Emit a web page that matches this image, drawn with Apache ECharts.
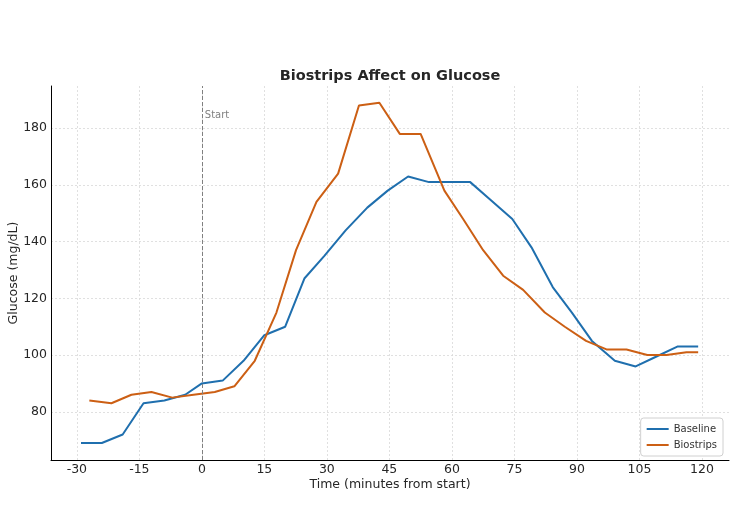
<!DOCTYPE html>
<html>
<head>
<meta charset="utf-8">
<script src="https://cdn.jsdelivr.net/npm/echarts@6/dist/echarts.min.js"></script>
<style>
html,body{margin:0;padding:0;background:#fff;}
#chart{width:745px;height:520px;}
</style>
</head>
<body>
<div id="chart"></div>
<script>
// Baseline series (time in minutes, glucose mg/dL)
const baselineTime = [-29, -24, -19, -14, -9, -4, 0, 5, 10, 15, 20, 24.6, 29.4, 34.5, 39.7, 44.6, 49.5, 54.5, 59.4, 64.4, 69.1, 74.5, 79.1, 84.2, 88.8, 93.6, 99.1, 104.1, 109.1, 114.1, 119.1];
const baselineValues = [69, 69, 72, 83, 84, 86, 90, 91, 98, 107, 110, 127, 135, 144, 152, 158, 163, 161, 161, 161, 155, 148, 138, 124, 115, 105, 98, 96, 99.5, 103, 103];
// Biostrips series
const biostripsTime = [-27, -21.7, -16.9, -12.1, -7.1, -2, 3.1, 7.8, 12.7, 17.9, 22.6, 27.5, 32.7, 37.7, 42.6, 47.5, 52.5, 58.2, 62.7, 67.5, 72.3, 77.1, 82.3, 87.1, 92.2, 97.1, 101.9, 106.9, 111.5, 116.3, 119.1];
const biostripsValues = [84, 83, 86, 87, 85, 86, 87, 89, 98, 115, 137, 154, 164, 188, 189, 178, 178, 158, 148, 137, 128, 123, 115, 110, 105, 102, 102, 100, 100, 101, 101];
// Axis ticks
const xTicks = [-30, -15, 0, 15, 30, 45, 60, 75, 90, 105, 120];
const yTicks = [80, 100, 120, 140, 160, 180];
const seriesNames = ['Baseline', 'Biostrips'];
const startMarker = 0;

const zip = (xs, ys) => xs.map((x, i) => [x, ys[i]]);
const font = 'DejaVu Sans, sans-serif';
const chart = echarts.init(document.getElementById('chart'), null, {renderer: 'canvas'});
const gridLine = {show: true, lineStyle: {color: '#d9d9d9', type: [2, 2], width: 0.8}};

chart.setOption({
  animation: false,
  backgroundColor: '#fff',
  title: {
    text: 'Biostrips Affect on Glucose',
    left: 385, top: 64, textAlign: 'center',
    textStyle: {fontFamily: font, fontSize: 14.5, fontWeight: 'bold', color: '#262626'}
  },
  legend: {
    orient: 'vertical', right: 22, bottom: 64,
    data: seriesNames,
    itemWidth: 22, itemHeight: 2, itemGap: 6,
    padding: [6, 6, 6, 6],
    backgroundColor: '#fff', borderColor: '#d0d0d0', borderWidth: 1, borderRadius: 3,
    textStyle: {fontFamily: font, fontSize: 10, color: '#333'},
    icon: 'rect'
  },
  grid: {left: 51, right: 16, top: 86, bottom: 60, containLabel: false, outerBoundsMode: 'none'},
  xAxis: {
    type: 'value', min: -36.2, max: 126.5,
    name: 'Time (minutes from start)', nameLocation: 'middle', nameGap: 18, nameMoveOverlap: false,
    nameTextStyle: {fontFamily: font, fontSize: 12.5, color: '#262626'},
    axisLine: {show: true, onZero: false, lineStyle: {color: '#000', width: 1}},
    axisTick: {show: false, customValues: xTicks},
    axisLabel: {customValues: xTicks, fontFamily: font, fontSize: 12.5, color: '#262626', margin: 3},
    splitLine: gridLine
  },
  yAxis: {
    type: 'value', min: 63, max: 194.9,
    name: 'Glucose (mg/dL)', nameLocation: 'middle', nameGap: 31, nameMoveOverlap: false,
    nameTextStyle: {fontFamily: font, fontSize: 12.5, color: '#262626'},
    axisLine: {show: true, onZero: false, lineStyle: {color: '#000', width: 1}},
    axisTick: {show: false, customValues: yTicks},
    axisLabel: {customValues: yTicks, fontFamily: font, fontSize: 12.5, color: '#262626', margin: 4},
    splitLine: gridLine
  },
  series: [
    {
      name: seriesNames[0], type: 'line', data: zip(baselineTime, baselineValues),
      showSymbol: false, symbol: 'none',
      lineStyle: {color: '#1f6fae', width: 2}, itemStyle: {color: '#1f6fae'},
      z: 3,
      markLine: {
        silent: true, symbol: ['none', 'none'],
        lineStyle: {color: '#808080', type: [4, 2], width: 1, opacity: 1},
        emphasis: {disabled: true},
        label: {show: false},
        data: [{xAxis: startMarker}]
      },
      markPoint: {
        symbol: 'circle', symbolSize: 0,
        label: {show: true, position: 'right', distance: 3, formatter: 'Start',
                fontFamily: font, fontSize: 10, color: '#808080'},
        data: [{coord: [startMarker, 184.5]}]
      }
    },
    {
      name: seriesNames[1], type: 'line', data: zip(biostripsTime, biostripsValues),
      showSymbol: false, symbol: 'none',
      lineStyle: {color: '#cc5f14', width: 2}, itemStyle: {color: '#cc5f14'},
      z: 4
    }
  ]
});
</script>
</body>
</html>
